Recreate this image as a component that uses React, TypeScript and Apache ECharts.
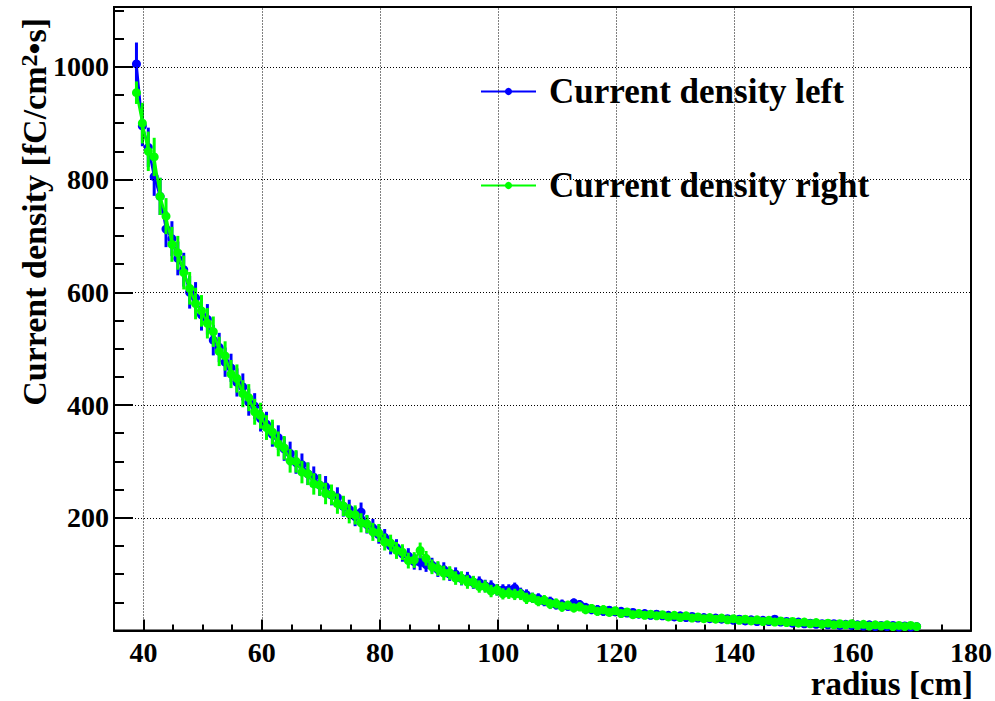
import React, { useEffect, useRef } from "react";
import * as echarts from "echarts";

// Bin centres: first bin at 38.8 cm, 1 cm wide
const RADIUS_START = 38.8;
const BIN_WIDTH = 1;

const LEFT_DENSITY = [
  1005, 895, 857, 805, 770, 712, 695, 660, 640, 600,
  590, 560, 552, 515, 502, 476, 466, 440, 432, 405,
  398, 376, 366, 348, 342, 322, 314, 298, 294, 278,
  272, 258, 255, 240, 236, 220, 215, 202, 210, 188,
  182, 170, 165, 150, 147, 136, 132, 122, 121, 117,
  116, 108, 108, 100, 100, 92, 92, 85, 85, 79,
  78, 72, 72, 72, 75, 66, 63, 58, 57, 52,
  51, 46, 46, 43, 49, 46, 41, 37, 37, 34,
  36, 33, 34, 31, 32, 29, 30, 27, 29, 26,
  27, 24, 26, 23, 25, 22, 23, 21, 22, 20,
  21, 18, 20, 17, 19, 16, 18, 16, 20, 15,
  16, 13, 15, 12, 13, 11, 12, 10, 12, 9,
  11, 9, 10, 8, 10, 7, 9, 7, 9, 6,
  8, 6, 7,
];

const RIGHT_DENSITY = [
  954, 900, 850, 840, 770, 735, 685, 670, 635, 607,
  580, 567, 545, 530, 495, 487, 455, 447, 420, 413,
  388, 381, 360, 352, 331, 324, 301, 300, 281, 278,
  260, 258, 243, 241, 225, 221, 207, 205, 191, 189,
  175, 173, 157, 155, 142, 139, 124, 125, 142, 128,
  113, 110, 102, 102, 93, 93, 86, 86, 78, 78,
  70, 72, 65, 66, 64, 64, 57, 58, 52, 54,
  47, 48, 42, 45, 40, 42, 37, 39, 34, 37,
  32, 35, 30, 33, 28, 30, 27, 29, 26, 28,
  24, 27, 23, 26, 22, 24, 21, 23, 20, 22,
  19, 21, 18, 20, 17, 19, 16, 18, 15, 17,
  14, 16, 13, 15, 12, 14, 11, 13, 10, 12,
  10, 12, 9, 11, 8, 10, 8, 10, 7, 9,
  7, 9, 7,
];

const LEFT_ERROR = [
  38, 36, 35, 34, 33, 32, 31, 30, 30, 29,
  28, 28, 27, 27, 26, 26, 25, 25, 24, 24,
  23, 23, 22, 22, 22, 21, 21, 20, 20, 20,
  19, 19, 19, 18, 18, 18, 17, 17, 17, 16,
  16, 16, 15, 15, 15, 14, 14, 14, 14, 13,
  13, 13, 13, 12, 12, 12, 12, 11, 11, 11,
  11, 10, 10, 10, 10, 10, 10, 9, 9, 9,
  9, 9, 9, 8, 8, 8, 8, 8, 8, 8,
  7, 7, 7, 7, 7, 7, 7, 7, 6, 6,
  6, 6, 6, 6, 6, 6, 6, 6, 6, 6,
  6, 6, 5, 5, 5, 5, 5, 5, 5, 5,
  5, 5, 5, 5, 5, 5, 5, 5, 5, 5,
  5, 5, 5, 5, 5, 5, 5, 5, 5, 5,
  5, 5, 5,
];

const RIGHT_ERROR = [
  20, 36, 35, 34, 33, 32, 31, 30, 30, 29,
  28, 28, 27, 27, 26, 26, 25, 25, 24, 24,
  23, 23, 22, 22, 22, 21, 21, 20, 20, 20,
  19, 19, 19, 18, 18, 18, 17, 17, 17, 16,
  16, 16, 15, 15, 15, 14, 14, 14, 14, 13,
  13, 13, 13, 12, 12, 12, 12, 11, 11, 11,
  11, 10, 10, 10, 10, 10, 10, 9, 9, 9,
  9, 9, 9, 8, 8, 8, 8, 8, 8, 8,
  7, 7, 7, 7, 7, 7, 7, 7, 6, 6,
  6, 6, 6, 6, 6, 6, 6, 6, 6, 6,
  6, 6, 5, 5, 5, 5, 5, 5, 5, 5,
  5, 5, 5, 5, 5, 5, 5, 5, 5, 5,
  5, 5, 5, 5, 5, 5, 5, 5, 5, 5,
  5, 5, 5,
];

const X_MAJOR = [40, 60, 80, 100, 120, 140, 160, 180];
const X_MINOR = [45, 50, 55, 65, 70, 75, 85, 90, 95, 105, 110, 115, 125, 130, 135, 145, 150, 155, 165, 170, 175];
const X_GRID = [40, 60, 80, 100, 120, 140, 160];
const Y_MAJOR = [0, 200, 400, 600, 800, 1000];
const Y_LABELS = [200, 400, 600, 800, 1000];
const Y_MINOR = [50, 100, 150, 250, 300, 350, 450, 500, 550, 650, 700, 750, 850, 900, 950, 1050, 1100];
const Y_GRID = [200, 400, 600, 800, 1000];

const LEFT_NAME = "Current density left";
const RIGHT_NAME = "Current density right";
const X_TITLE = "radius [cm]";
const Y_TITLE = "Current density [fC/cm{sup|2}•s]";

const FONT = "Liberation Serif";
const BLUE = "#0000ff";
const GREEN = "#00ff00";

export default function App() {
  const ref = useRef<HTMLDivElement>(null);

  useEffect(() => {
    document.body.style.margin = "0";
    if (!ref.current) return;
    const chart = echarts.init(ref.current, undefined, { renderer: "svg" });

    const radius = LEFT_DENSITY.map((_, i) => +(RADIUS_START + i * BIN_WIDTH).toFixed(1));
    const leftData = radius.map((r, i) => [r, LEFT_DENSITY[i]]);
    const rightData = radius.map((r, i) => [r, RIGHT_DENSITY[i]]);
    const leftErr = radius.map((r, i) => [r, LEFT_DENSITY[i], LEFT_ERROR[i]]);
    const rightErr = radius.map((r, i) => [r, RIGHT_DENSITY[i], RIGHT_ERROR[i]]);

    const errRender = (color: string) => (params: any, api: any) => {
      const x = api.value(0);
      const y = api.value(1);
      const e = api.value(2);
      const p1 = api.coord([x, y - e]);
      const p2 = api.coord([x, y + e]);
      return {
        type: "line",
        shape: { x1: p1[0], y1: p1[1], x2: p2[0], y2: p2[1] },
        style: { stroke: color, lineWidth: 3 },
      };
    };

    const labelStyle = {
      fontFamily: FONT,
      fontWeight: "bold" as const,
      fontSize: 28,
      lineHeight: 24,
      color: "#000",
      formatter: (v: number) => String(v),
    };

    const option: any = {
      animation: false,
      grid: {
        left: 114,
        top: 7,
        width: 859,
        height: 623.5,
        show: true,
        borderColor: "#000",
        borderWidth: 2,
        backgroundColor: "transparent",
      },
      xAxis: [
        {
          type: "value",
          min: 35,
          max: 180,
          position: "bottom",
          axisLine: { show: true, onZero: false, lineStyle: { color: "#000", width: 2 } },
          axisTick: { show: true, inside: true, length: 11, customValues: X_MAJOR, lineStyle: { color: "#000", width: 2 } },
          axisLabel: { show: true, customValues: X_MAJOR, margin: 10, ...labelStyle },
          splitLine: { show: false },
        },
        {
          type: "value",
          min: 35,
          max: 180,
          position: "bottom",
          axisLine: { show: false, onZero: false },
          axisTick: { show: true, inside: true, length: 6, customValues: X_MINOR, lineStyle: { color: "#000", width: 2 } },
          axisLabel: { show: false },
          splitLine: { show: false },
        },
      ],
      yAxis: [
        {
          type: "value",
          min: 0,
          max: 1106,
          position: "left",
          axisLine: { show: true, onZero: false, lineStyle: { color: "#000", width: 2 } },
          axisTick: { show: true, inside: true, length: 19, customValues: Y_MAJOR, lineStyle: { color: "#000", width: 2 } },
          axisLabel: { show: true, customValues: Y_LABELS, margin: 5, ...labelStyle },
          splitLine: { show: false },
        },
        {
          type: "value",
          min: 0,
          max: 1106,
          position: "left",
          axisLine: { show: false, onZero: false },
          axisTick: { show: true, inside: true, length: 10, customValues: Y_MINOR, lineStyle: { color: "#000", width: 2 } },
          axisLabel: { show: false },
          splitLine: { show: false },
        },
      ],
      legend: {
        data: [LEFT_NAME, RIGHT_NAME],
        orient: "vertical",
        left: 480,
        top: 74,
        padding: 0,
        itemWidth: 55,
        itemHeight: 9,
        itemGap: 59,
        selectedMode: false,
        textStyle: {
          fontFamily: FONT,
          fontWeight: "bold",
          fontSize: 35,
          color: "#000",
          lineHeight: 32,
          padding: [0, 0, 0, 8],
        },
      },
      graphic: [
        {
          type: "text",
          x: 973,
          y: 684,
          style: {
            text: X_TITLE,
            font: `bold 33px "${FONT}"`,
            lineHeight: 28,
            fill: "#000",
            align: "right",
            verticalAlign: "middle",
          },
        },
        {
          type: "text",
          x: 34,
          y: 18,
          rotation: Math.PI / 2,
          style: {
            text: Y_TITLE,
            font: `bold 34px "${FONT}"`,
            fill: "#000",
            align: "right",
            verticalAlign: "middle",
            rich: {
              sup: {
                fontFamily: FONT,
                fontWeight: "bold",
                fontSize: 24,
                verticalAlign: "top",
                fill: "#000",
              },
            },
          },
        },
      ],
      series: [
        {
          name: "grid",
          type: "line",
          data: [],
          z: 1,
          silent: true,
          markLine: {
            silent: true,
            symbol: ["none", "none"],
            label: { show: false },
            lineStyle: { type: [1, 2], color: "#000", width: 1 },
            emphasis: { disabled: true },
            data: [
              ...X_GRID.map((v) => ({ xAxis: v })),
              ...Y_GRID.map((v) => ({ yAxis: v })),
            ],
          },
        },
        {
          name: "left errors",
          type: "custom",
          z: 2,
          silent: true,
          renderItem: errRender(BLUE),
          data: leftErr,
        },
        {
          name: LEFT_NAME,
          type: "line",
          z: 3,
          data: leftData,
          symbol: "circle",
          symbolSize: 9,
          showSymbol: true,
          itemStyle: { color: BLUE },
          lineStyle: { color: BLUE, width: 2.5 },
          silent: true,
        },
        {
          name: "right errors",
          type: "custom",
          z: 4,
          silent: true,
          renderItem: errRender(GREEN),
          data: rightErr,
        },
        {
          name: RIGHT_NAME,
          type: "line",
          z: 5,
          data: rightData,
          symbol: "circle",
          symbolSize: 9,
          showSymbol: true,
          itemStyle: { color: GREEN },
          lineStyle: { color: GREEN, width: 2.5 },
          silent: true,
        },
      ],
    };

    chart.setOption(option);
    return () => {
      chart.dispose();
    };
  }, []);

  return <div ref={ref} style={{ width: 995, height: 701 }} />;
}
